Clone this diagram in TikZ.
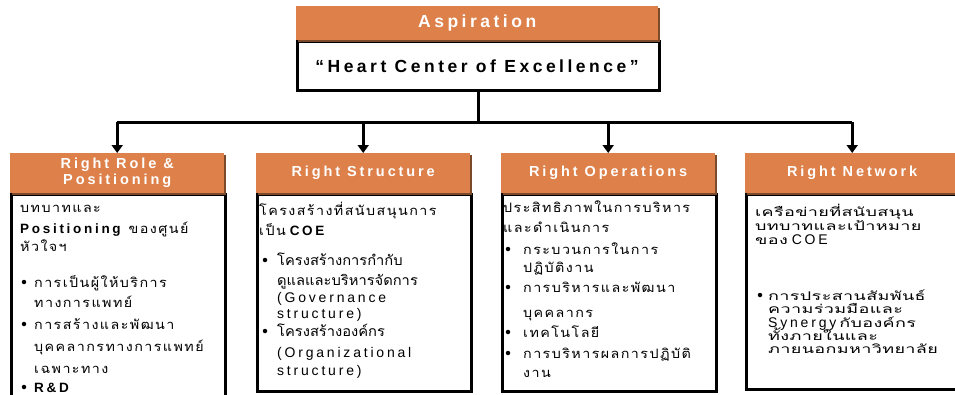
\documentclass[tikz,border=0pt]{standalone}
\usepackage{fontspec}
\setmainfont{Liberation Sans}
\usetikzlibrary{arrows.meta,shadows}
\newfontfamily\thaiA[Script=Thai,LetterSpace=11,FakeStretch=1.1]{Loma}
\newfontfamily\thaiB[Script=Thai,FakeStretch=1.05]{Loma}
\newfontfamily\thaiC[Script=Thai,LetterSpace=3,FakeStretch=1.5]{Loma}
\newfontfamily\latS[LetterSpace=20]{Liberation Sans}
\definecolor{hdrorange}{HTML}{DD804A}
\definecolor{hdrshadow}{HTML}{7A4A2A}
\newcommand\fA{\thaiA\fontsize{13}{15}\selectfont}
\newcommand\fB{\thaiB\fontsize{14}{16}\selectfont}
\newcommand\fC{\thaiC\fontsize{12}{13}\selectfont}
\newcommand\fL{\latS\fontsize{14}{16}\selectfont}
\newcommand\fLB{\latS\bfseries\fontsize{13.5}{15}\selectfont}
\newcommand\fH{\latS\bfseries\fontsize{14.5}{18}\selectfont}
\newcommand\fT{\latS\bfseries\fontsize{17.5}{19}\selectfont}
\begin{document}
\begin{tikzpicture}[x=1pt,y=-1pt,
  hdr/.style={fill=hdrorange, text=white, font=\fH, align=center, anchor=north west,
    inner sep=0pt, drop shadow={shadow xshift=1.5pt, shadow yshift=-1.5pt, fill=hdrshadow, opacity=1}},
  body/.style={fill=white, draw=black, line width=3pt, anchor=north west, inner sep=0pt,
    drop shadow={shadow xshift=1.5pt, shadow yshift=-1.5pt, fill=gray!45, opacity=1}},
  txt/.style={anchor=base west, inner sep=0pt},
  dot/.style={circle, fill=black, inner sep=0pt, minimum size=4.5pt},
  conn/.style={line width=3pt, draw=black},
  tip/.style={-{Triangle[width=11pt,length=8pt]}}]
\useasboundingbox (0,0) rectangle (955,394);
\fill[white] (0,0) rectangle (955,394);
% top
\node[body, minimum width=362pt, minimum height=49pt] (a1) at (296,40) {};
\node[hdr, font=\fT, minimum width=362pt, minimum height=34pt] (a0) at (296,6) {Aspiration};
\node[font=\fT, text=black, inner sep=0pt] (a1t) at (477,66) {“Heart Center of Excellence”};
% bodies
\node[body, minimum width=214pt, minimum height=225pt] (b1) at (10,193) {};
\node[body, minimum width=214pt, minimum height=197pt] (b2) at (256,193) {};
\node[body, minimum width=214pt, minimum height=197pt] (b3) at (501,193) {};
\node[body, minimum width=214pt, minimum height=195pt] (b4) at (745,193) {};
% headers
\node[hdr, minimum width=214pt, minimum height=40pt] (h1) at (10,153) {Right Role \&\\[-2pt]Positioning};
\node[hdr, minimum width=214pt, minimum height=40pt] (h2) at (256,153) {Right Structure};
\node[hdr, minimum width=214pt, minimum height=40pt] (h3) at (501,153) {Right Operations};
\node[hdr, minimum width=214pt, minimum height=40pt] (h4) at (745,153) {Right Network};
% connectors
\coordinate (j) at (478,122);
\draw[conn] (a1.south) -- (a1.south |- j);
\draw[conn] (h1.north |- j) -- (h4.north |- j);
\draw[conn,tip] (h1.north |- j) -- (h1.north);
\draw[conn,tip] (h2.north |- j) -- (h2.north);
\draw[conn,tip] (h3.north |- j) -- (h3.north);
\draw[conn,tip] (h4.north |- j) -- (h4.north);
% box 1
\node[txt] (t11) at (20,212) {\fA บทบาทและ};
\node[txt] (t12) at (20,233) {{\fLB Positioning}\hspace{8pt}{\fA ของศูนย์}};
\node[txt] (t13) at (20,251) {\fA หัวใจฯ};
\node[dot] (d14) at (24,282) {};
\node[txt] (t14) at (34,287) {\fA การเป็นผู้ให้บริการ};
\node[txt] (t15) at (34,307) {\fA ทางการแพทย์};
\node[dot] (d16) at (24,324) {};
\node[txt] (t16) at (34,329) {\fA การสร้างและพัฒนา};
\node[txt] (t17) at (34,351) {\fA บุคคลากรทางการแพทย์};
\node[txt] (t18) at (34,373) {\fA เฉพาะทาง};
\node[dot] (d19) at (24,387) {};
\node[txt] (t19) at (34,392.5) {\fLB R\&D};
% box 2
\node[txt] (t21) at (259,215) {\fA โครงสร้างที่สนับสนุนการ};
\node[txt] (t22) at (259,235) {{\fA เป็น}\hspace{4pt}{\fLB COE}};
\node[dot] (d23) at (265,260) {};
\node[txt] (t23) at (277,265) {\fB โครงสร้างการกำกับ};
\node[txt] (t24) at (277,285) {\fB ดูแลและบริหารจัดการ};
\node[txt] (t25) at (277,302) {\fL (Governance};
\node[txt] (t26) at (277,318) {\fL structure)};
\node[dot] (d27) at (265,331) {};
\node[txt] (t27) at (277,336) {\fB โครงสร้างองค์กร};
\node[txt] (t28) at (277,357) {\fL (Organizational};
\node[txt] (t29) at (277,375) {\fL structure)};
% box 3
\node[txt] (t31) at (503,212) {\fA ประสิทธิภาพในการบริหาร};
\node[txt] (t32) at (503,232) {\fA และดำเนินการ};
\node[dot] (d33) at (508,249) {};
\node[txt] (t33) at (523,254) {\fA กระบวนการในการ};
\node[txt] (t34) at (523,272) {\fA ปฏิบัติงาน};
\node[dot] (d35) at (508,287) {};
\node[txt] (t35) at (523,292) {\fA การบริหารและพัฒนา};
\node[txt] (t36) at (523,317) {\fA บุคคลากร};
\node[dot] (d37) at (508,332) {};
\node[txt] (t37) at (523,337) {\fA เทคโนโลยี};
\node[dot] (d38) at (508,353) {};
\node[txt] (t38) at (523,358) {\fA การบริหารผลการปฏิบัติ};
\node[txt] (t39) at (523,377) {\fA งาน};
% box 4
\node[txt] (t41) at (755,216) {\fC เครือข่ายที่สนับสนุน};
\node[txt] (t42) at (755,230) {\fC บทบาทและเป้าหมาย};
\node[txt] (t43) at (755,244) {{\fC ของ}\hspace{4pt}{\fL COE}};
\node[dot] (d44) at (760,295) {};
\node[txt] (t44) at (768,300) {\fC การประสานสัมพันธ์};
\node[txt] (t45) at (768,313) {\fC ความร่วมมือและ};
\node[txt] (t46) at (768,327) {{\fL Synergy}\hspace{3pt}{\fC กับองค์กร}};
\node[txt] (t47) at (768,340) {\fC ทั้งภายในและ};
\node[txt] (t48) at (768,353) {\fC ภายนอกมหาวิทยาลัย};
\end{tikzpicture}
\end{document}
